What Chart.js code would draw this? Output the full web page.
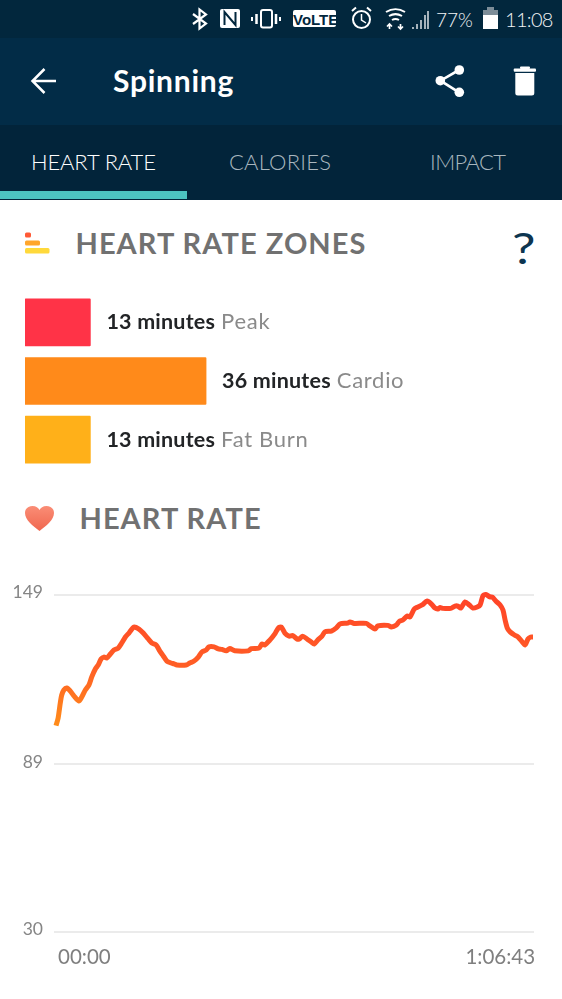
<!DOCTYPE html>
<html><head><meta charset="utf-8">
<script src="https://cdn.jsdelivr.net/npm/chart.js@4"></script>
<style>
html,body{margin:0;padding:0;background:#fff;overflow:hidden}
#page{position:relative;width:562px;height:999px;overflow:hidden;font-family:Lato,sans-serif}
.abs{position:absolute;white-space:nowrap;line-height:1}
.band{position:absolute;left:0;width:562px}
svg{position:absolute;overflow:visible}
canvas{position:absolute}
</style></head><body>
<div id="page">
<div class="band" style="top:0;height:38px;background:#02273d"></div>
<div class="band" style="top:38px;height:87px;background:#022c47"></div>
<div class="band" style="top:125px;height:75px;background:#02243a"></div>
<div class="abs" style="left:0;top:191px;width:187px;height:8px;background:#4cc3c1"></div>

<!-- status bar -->
<svg style="left:0;top:0" width="562" height="38" fill="none" stroke="#fff">
 <path d="M193 14 L206 23.500 L199.500 28.500 V9.500 L206 14.500 L193 24" stroke-width="2.200"/>
 <rect x="220" y="9" width="20" height="19" rx="2" fill="#fff" stroke="none"/>
 <path d="M224.500 25 V12 L235.500 25 V12" stroke="#02273d" stroke-width="2"/>
 <rect x="261" y="10" width="11" height="17.500" rx="2" stroke-width="2"/>
 <path d="M256.500 14 V24 M276 14 V24" stroke-width="2.500"/>
 <path d="M252 17 V21 M280 17 V21" stroke-width="2"/>
 <rect x="293" y="10" width="43" height="17" rx="2" fill="#fff" stroke="none"/>
 <circle cx="361.500" cy="19.500" r="8.500" stroke-width="2"/>
 <path d="M361.500 14 V20 L366 23" stroke-width="1.500"/>
 <path d="M352 11 L356 7.500 M371 11 L367 7.500" stroke-width="2"/>
 <path d="M386 12 A18 18 0 0 1 405 12 M389 16 A13 13 0 0 1 402 16 M392 20 A7 7 0 0 1 399 20" stroke-width="2"/>
 <path d="M389.500 29 V24 M387 26.500 L389.500 24 L392 26.500 M400.500 24 V29 M398 26.500 L400.500 29 L403 26.500" stroke-width="1.700"/>
 <path d="M413 29 V27 M417 29 V24 M421 29 V20 M425 29 V15 M428 29 V11" stroke-width="1.600" stroke="#cfd6db"/>
 <rect x="483" y="15" width="15" height="14" fill="#fff" stroke="none"/>
 <path d="M483 15 V10 H487 V7 H494 V10 H498 V15 Z" fill="#7d8d98" stroke="none"/>
</svg>
<div class="abs" style="left:293px;top:11px;width:43px;text-align:center;font:bold 15px 'Liberation Sans Narrow','Liberation Sans';color:#02273d">VoLTE</div>
<div class="abs" style="left:436px;top:10px;font-size:19px;font-weight:300;color:#f2f4f5">77%</div>
<div class="abs" style="left:505px;top:9px;font-size:20px;font-weight:300;letter-spacing:-.7px;color:#f2f4f5">11:08</div>

<!-- header -->
<svg style="left:0;top:38px" width="562" height="87" fill="none" stroke="#fff">
 <path d="M56 43 H33 M44.500 31 L32.500 43 L44.500 55" stroke-width="2.500"/>
 <path d="M459 32 L440.500 42.700 L459 54.300" stroke-width="2.600"/>
 <circle cx="459.300" cy="32" r="4.800" fill="#fff" stroke="none"/>
 <circle cx="440.300" cy="42.700" r="4.800" fill="#fff" stroke="none"/>
 <circle cx="459.300" cy="54.300" r="4.800" fill="#fff" stroke="none"/>
 <path d="M515.300 35 H534.300 V55 A2.500 2.500 0 0 1 531.800 57.500 H517.800 A2.500 2.500 0 0 1 515.300 55 Z" fill="#fff" stroke="none"/>
 <rect x="513.700" y="30.500" width="22.300" height="3.300" rx="1" fill="#fff" stroke="none"/>
 <rect x="520" y="28.500" width="10" height="2.500" rx="1" fill="#fff" stroke="none"/>
</svg>
<div class="abs" style="left:113px;top:65px;font-size:30px;font-weight:700;letter-spacing:.75px;color:#fff">Spinning</div>

<!-- tabs -->
<div class="abs" style="left:31px;top:151px;font-size:22px;font-weight:300;letter-spacing:-.15px;color:#fff">HEART RATE</div>
<div class="abs" style="left:229px;top:151px;font-size:22px;font-weight:300;letter-spacing:.2px;color:#a9b7bf">CALORIES</div>
<div class="abs" style="left:430px;top:151px;font-size:22px;font-weight:300;letter-spacing:-.6px;color:#a9b7bf">IMPACT</div>

<!-- zones title -->
<svg style="left:0;top:0" width="80" height="260">
 <rect x="25" y="232.500" width="6" height="5" rx="1.500" fill="#ff5a36"/>
 <rect x="25" y="240.500" width="15" height="5" rx="1.500" fill="#ffa52b"/>
 <rect x="25" y="248" width="24.500" height="5.500" rx="1.500" fill="#ffd93b"/>
</svg>
<div class="abs" style="left:75.500px;top:228px;font-size:29px;font-weight:700;letter-spacing:1.05px;color:#717171">HEART RATE ZONES</div>
<div class="abs" style="left:512px;top:227px;font-size:42px;font-weight:400;color:#0d3550;transform:scaleX(1.25);transform-origin:left top">?</div>

<!-- heart title -->
<svg style="left:0;top:0" width="80" height="540">
 <defs><linearGradient id="hg" x1="0" y1="0" x2="0" y2="1"><stop offset="0" stop-color="#fa8d76"/><stop offset="1" stop-color="#f0674f"/></linearGradient></defs>
 <path d="M39.500 531 C33 526 25 520 25 513 C25 508 29 506 32.500 506 C36 506 38.500 508 39.500 510 C40.500 508 43 506 46.500 506 C50 506 54 508 54 513 C54 520 46 526 39.500 531 Z" fill="url(#hg)"/>
</svg>
<div class="abs" style="left:79.500px;top:503px;font-size:29px;font-weight:700;letter-spacing:1.05px;color:#717171">HEART RATE</div>

<canvas id="zones" width="503" height="176" style="left:25px;top:293px"></canvas>
<canvas id="hr" width="562" height="429" style="left:0;top:570px"></canvas>
</div>
<script>
const zoneNames = ["Peak", "Cardio", "Fat Burn"];
const zoneMinutes = [13, 36, 13];
const zoneColors = ["#ff3347", "#ff8a1a", "#ffb019"];
const hrTickValues = [30, 89, 149];
const timeTickValues = [0, 66.72];
const timeTickLabels = ["00:00", "1:06:43"];
const elapsedMinutes = [0,.3,.6,.8,1.1,1.5,2,2.5,3.2,3.6,4.1,4.6,5,5.5,5.9,6.3,6.7,7.1,7.6,8.1,8.7,9.2,9.7,10.2,10.9,11.6,12.2,12.9,13.4,14,14.5,15,15.5,16.1,16.5,16.9,18.2,18.7,19.3,19.9,20.4,21,21.4,22.1,22.7,23.2,23.8,24.3,25,26.9,27.3,28.4,28.8,29.2,29.9,30.6,31.1,31.5,32,32.6,33.1,33.7,34,34.5,35.1,35.7,36.1,36.6,37.2,37.6,38.5,39.2,39.7,40.8,41.1,41.7,43.4,43.9,44.6,45,46.4,46.9,47.6,48,48.5,49.1,49.5,50.1,50.6,51.2,51.9,52.5,53,53.4,53.7,54.1,55.2,55.8,56.2,56.6,57.2,57.8,58.3,58.9,59.3,59.7,60.1,60.7,61,61.5,62.1,62.5,62.8,63.1,63.5,64.1,64.6,65,65.6,66,66.4,66.7];
const heartRate = [102.7,105.4,110.7,113.5,115.3,116,114.9,113.2,111.4,112.8,115.3,117,119.9,122.7,124.1,126.2,126.9,126.6,128,129.4,130.1,131.9,134,135.4,137.5,136.8,135.4,133.3,131.9,131.2,129.1,127.3,125.5,124.8,124.5,124.1,124.1,124.8,125.5,126.9,128.7,129.4,130.5,130.5,129.8,129.6,129.1,129.9,129.1,129.1,129.9,130.1,131.5,131.2,132.9,135.1,137.2,137.5,135.4,134.3,134.5,133.3,133.3,134.3,133.3,132.2,131.5,132.9,134.3,135.8,136.1,137.2,138.6,138.9,139.3,138.8,138.8,137.9,136.8,137.9,138.1,137.5,138.2,139.5,140,141.4,141.1,143.9,144.6,145.3,146.7,145.6,144.2,143.9,144.4,144.1,144.1,144.9,144.9,144.2,146.4,145.3,144.2,144.6,145.3,148.5,149,148.1,148.1,146.7,145.3,143.5,140,137.2,135.8,134.7,134,132.9,131.2,133.3,134,134];

const zoneLabels = {
  id: "zoneLabels",
  afterDatasetsDraw(chart) {
    const c = chart.ctx;
    chart.getDatasetMeta(0).data.forEach((bar, i) => {
      const label = zoneMinutes[i] + " minutes";
      const x = bar.x + 16;
      c.save();
      c.textBaseline = "middle";
      c.font = "700 21.5px Lato, sans-serif";
      c.letterSpacing = "0.2px";
      c.fillStyle = "#222426";
      c.fillText(label, x, bar.y);
      const w = c.measureText(label).width;
      c.font = "400 22px Lato, sans-serif";
      c.letterSpacing = "0.7px";
      c.fillStyle = "#8a8a8a";
      c.fillText(zoneNames[i], x + w + 6, bar.y);
      c.restore();
    });
  }
};

new Chart(document.getElementById("zones"), {
  type: "bar",
  plugins: [zoneLabels],
  data: { labels: zoneNames, datasets: [{ data: zoneMinutes, backgroundColor: zoneColors, barThickness: 47, borderRadius: 1, borderSkipped: false }] },
  options: {
    indexAxis: "y", responsive: false, animation: false,
    plugins: { legend: { display: false }, tooltip: { enabled: false } },
    scales: { x: { display: false, min: 0, max: 100 }, y: { display: false } }
  }
});

function lineGradient(ctx) {
  const chart = ctx.chart, y = chart.scales.y;
  if (!chart.chartArea || !y) return "#ff5a25";
  const g = chart.ctx.createLinearGradient(0, y.getPixelForValue(102), 0, y.getPixelForValue(149));
  g.addColorStop(0, "#ff8e1a");
  g.addColorStop(0.45, "#ff5f25");
  g.addColorStop(1, "#ff4328");
  return g;
}

new Chart(document.getElementById("hr"), {
  type: "line",
  data: { datasets: [{
    data: elapsedMinutes.map((t, i) => ({ x: t, y: heartRate[i] })),
    borderColor: lineGradient, borderWidth: 5, pointRadius: 0, tension: 0.25,
    borderJoinStyle: "round", clip: false
  }] },
  options: {
    responsive: false, animation: false,
    layout: { padding: { top: 24.5, right: 28, left: 0, bottom: 0 } },
    plugins: { legend: { display: false }, tooltip: { enabled: false } },
    scales: {
      x: {
        type: "linear", min: -0.28, max: 66.84,
        afterBuildTicks(s) { s.ticks = timeTickValues.map(v => ({ value: v })); },
        afterFit(s) { s.height = 67.5; },
        grid: { display: false }, border: { display: false },
        ticks: {
          autoSkip: false, maxRotation: 0, align: "inner", padding: 6, labelOffset: 2,
          color: "#7f7f7f", font: { family: "Lato", size: 20.5 },
          callback: (v) => timeTickLabels[timeTickValues.indexOf(v)]
        }
      },
      y: {
        min: 30, max: 149,
        afterBuildTicks(s) { s.ticks = hrTickValues.map(v => ({ value: v })); },
        afterFit(s) { s.width = 54; },
        grid: { color: "#ebebeb", lineWidth: 2, drawTicks: false }, border: { display: false },
        ticks: { padding: 11, labelOffset: -2, color: "#858585", font: { family: "Lato", size: 17.5 } }
      }
    }
  }
});
</script>
</body></html>
